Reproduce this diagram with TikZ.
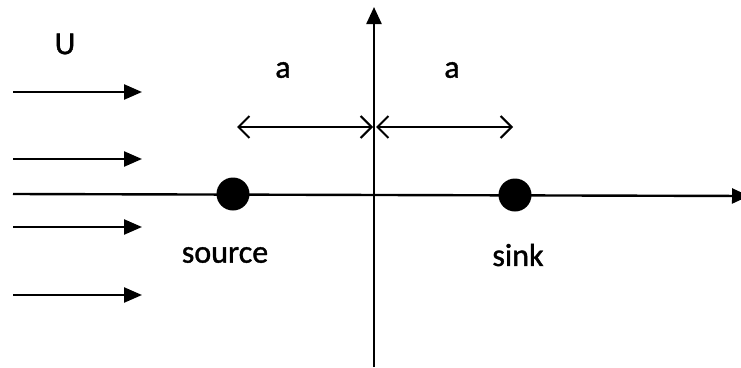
\documentclass[tikz,border=0pt]{standalone}
\usepackage{fontspec}
\setmainfont{Carlito}
\newfontfamily\lblfont{Carlito}[FakeBold=1.2]
\usetikzlibrary{arrows.meta}
\begin{document}
\begin{tikzpicture}[x=1pt,y=-1pt,
  line width=2.4pt,
  flow/.style={-{Triangle[length=18pt,width=15pt]}},
  axis/.style={-{Triangle[length=17pt,width=15pt]}},
  dim/.style={{Straight Barb[length=11pt,width=22pt,line width=2pt]}-{Straight Barb[length=11pt,width=22pt,line width=2pt]}, line width=2pt},
  lbl/.style={font=\lblfont\fontsize{32}{38}\selectfont, inner sep=0pt},
  dot/.style={circle, fill=black, minimum size=33pt, inner sep=0pt}]
\useasboundingbox (0,0) rectangle (741,367);
% axes
\coordinate (xs) at (13,194);
\coordinate (xe) at (749,196);
\coordinate (ys) at (374,367);
\coordinate (ye) at (374,7);
\draw[axis] (xs) -- (xe);
\draw[axis] (ys) -- (ye);
% flow arrows
\foreach \i/\y in {1/92,2/159,3/227,4/295}{
  \coordinate (f\i s) at (13,\y);
  \coordinate (f\i e) at (142,\y);
  \draw[flow] (f\i s) -- (f\i e);
}
% source and sink
\node[dot] (src) at (233,194) {};
\node[dot] (snk) at (515,195) {};
\node[lbl] (srcl) at (225,255) {source};
\node[lbl] (snkl) at (518,255) {sink};
% dimension arrows
\coordinate (d1a) at (237,127);
\coordinate (d1b) at (373,127);
\coordinate (d2a) at (376,127);
\coordinate (d2b) at (513,127);
\draw[dim] (d1a) -- (d1b);
\draw[dim] (d2a) -- (d2b);
\node[lbl] (a1) at (283,70) {a};
\node[lbl] (a2) at (452,70) {a};
\node[lbl] (U) at (65,44) {U};
\end{tikzpicture}
\end{document}
